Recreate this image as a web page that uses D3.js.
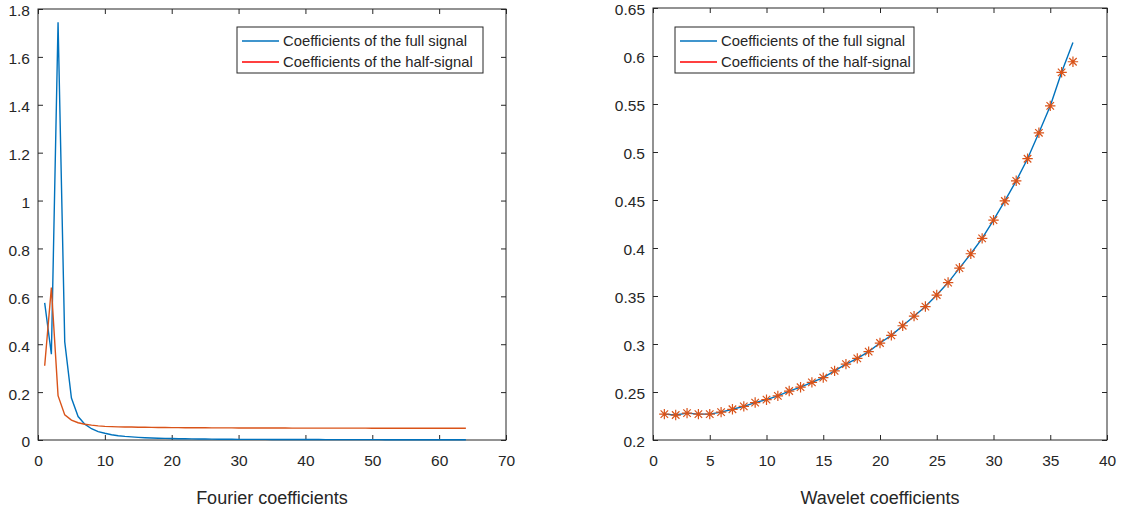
<!DOCTYPE html>
<meta charset="utf-8">
<style>
body { margin: 0; background: #fff; }
text { font-family: "Liberation Sans", Arial, sans-serif; fill: #262626; }
.tick text { font-size: 15.5px; }
.domain { display: none; }
.tick line { stroke: #262626; }
</style>
<body>
<script src="https://d3js.org/d3.v7.min.js"></script>
<script>

const width = 1147,
    height = 514

// Fourier coefficients, indices 1..64
var fourierFull = [0.573, 0.358, 1.745, 0.41, 0.175, 0.098, 0.066, 0.047, 0.035, 0.028,
    0.022, 0.018, 0.015, 0.013, 0.011, 0.0095, 0.0085, 0.0075, 0.0067, 0.006,
    0.0055, 0.005, 0.0046, 0.0042, 0.0039, 0.0036, 0.0034, 0.0032, 0.003, 0.0028,
    0.0027, 0.0026, 0.0025, 0.0024, 0.0023, 0.0022, 0.0021, 0.002, 0.0019, 0.0019,
    0.0018, 0.0018, 0.0017, 0.0017, 0.0016, 0.0016, 0.0015, 0.0015, 0.0014, 0.0014,
    0.0014, 0.0013, 0.0013, 0.0013, 0.0012, 0.0012, 0.0012, 0.0011, 0.0011, 0.0011,
    0.001, 0.001, 0.001, 0.001]
var fourierHalf = [0.31, 0.637, 0.185, 0.105, 0.083, 0.072, 0.066, 0.062, 0.059, 0.057,
    0.056, 0.055, 0.0545, 0.054, 0.0535, 0.053, 0.0527, 0.0524, 0.0521, 0.0518,
    0.0516, 0.0514, 0.0512, 0.051, 0.0509, 0.0508, 0.0507, 0.0506, 0.0505, 0.0504,
    0.0503, 0.0502, 0.0501, 0.05, 0.05, 0.0499, 0.0499, 0.0498, 0.0498, 0.0497,
    0.0497, 0.0496, 0.0496, 0.0495, 0.0495, 0.0495, 0.0494, 0.0494, 0.0494, 0.0493,
    0.0493, 0.0493, 0.0492, 0.0492, 0.0492, 0.0492, 0.0491, 0.0491, 0.0491, 0.0491,
    0.049, 0.049, 0.049, 0.049]

// Wavelet coefficients, indices 1..37
var waveletFull = [0.227, 0.226, 0.228, 0.227, 0.227, 0.229, 0.232, 0.235, 0.239, 0.242,
    0.246, 0.251, 0.255, 0.26, 0.265, 0.272, 0.279, 0.285, 0.292, 0.301,
    0.309, 0.319, 0.329, 0.339, 0.351, 0.364, 0.379, 0.394, 0.41, 0.429,
    0.449, 0.47, 0.493, 0.52, 0.548, 0.583, 0.614]
var waveletHalf = [0.227, 0.226, 0.228, 0.227, 0.227, 0.229, 0.232, 0.235, 0.239, 0.242,
    0.246, 0.251, 0.255, 0.26, 0.265, 0.272, 0.279, 0.285, 0.292, 0.301,
    0.309, 0.319, 0.329, 0.339, 0.351, 0.364, 0.379, 0.394, 0.41, 0.429,
    0.449, 0.47, 0.493, 0.52, 0.548, 0.583, 0.594]

var fourierXTicks = [0, 10, 20, 30, 40, 50, 60, 70]
var fourierYTicks = [0, 0.2, 0.4, 0.6, 0.8, 1, 1.2, 1.4, 1.6, 1.8]
var waveletXTicks = [0, 5, 10, 15, 20, 25, 30, 35, 40]
var waveletYTicks = [0.2, 0.25, 0.3, 0.35, 0.4, 0.45, 0.5, 0.55, 0.6, 0.65]

var legendLabels = ['Coefficients of the full signal', 'Coefficients of the half-signal']

var blue = '#0072BD', orange = '#D95319'

var svg = d3.select('body').append('svg')
    .attr('width', width)
    .attr('height', height)

function panel(opt) {
    var x = d3.scaleLinear().domain(opt.xDomain).range([opt.left, opt.right])
    var y = d3.scaleLinear().domain(opt.yDomain).range([opt.bottom, opt.top])
    var g = svg.append('g')

    var fmt = function (d) { return String(+d.toFixed(2)) }

    // bottom and left axes with inward ticks
    g.append('g').attr('transform', 'translate(0,' + opt.bottom + ')')
        .call(d3.axisBottom(x).tickValues(opt.xTicks).tickSize(-5).tickPadding(15).tickFormat(fmt))
    g.append('g').attr('transform', 'translate(' + opt.left + ',0)')
        .call(d3.axisLeft(y).tickValues(opt.yTicks).tickSize(-5).tickPadding(8).tickFormat(fmt))
        .selectAll('text').attr('dy', '0.45em')
    // top and right ticks
    g.append('g').attr('transform', 'translate(0,' + opt.top + ')')
        .call(d3.axisTop(x).tickValues(opt.xTicks).tickSize(-5).tickFormat(''))
    g.append('g').attr('transform', 'translate(' + opt.right + ',0)')
        .call(d3.axisRight(y).tickValues(opt.yTicks).tickSize(-5).tickFormat(''))

    g.append('rect')
        .attr('x', opt.left).attr('y', opt.top)
        .attr('width', opt.right - opt.left).attr('height', opt.bottom - opt.top)
        .attr('fill', 'none').attr('stroke', '#262626').attr('stroke-width', 1)

    var line = d3.line()
        .x(function (d, i) { return x(i + 1) })
        .y(function (d) { return y(d) })

    g.append('path').datum(opt.full)
        .attr('d', line).attr('fill', 'none')
        .attr('stroke', blue).attr('stroke-width', 1.4)

    if (opt.halfMarkers) {
        var s = 5.2, k = s * 0.72
        g.selectAll('.star').data(opt.half).enter().append('path')
            .attr('class', 'star')
            .attr('transform', function (d, i) { return 'translate(' + x(i + 1) + ',' + y(d) + ')' })
            .attr('d', 'M' + (-s) + ',0H' + s + 'M0,' + (-s) + 'V' + s +
                'M' + (-k) + ',' + (-k) + 'L' + k + ',' + k +
                'M' + (-k) + ',' + k + 'L' + k + ',' + (-k))
            .attr('fill', 'none').attr('stroke', orange).attr('stroke-width', 1.2)
    } else {
        g.append('path').datum(opt.half)
            .attr('d', line).attr('fill', 'none')
            .attr('stroke', orange).attr('stroke-width', 1.4)
    }

    g.append('text')
        .attr('x', (opt.left + opt.right) / 2).attr('y', 504)
        .attr('text-anchor', 'middle').style('font-size', '18px')
        .text(opt.xlabel)

    // legend
    var lg = svg.append('g').attr('transform', 'translate(' + opt.legendX + ',' + opt.legendY + ')')
    lg.append('rect').attr('width', opt.legendW).attr('height', 46)
        .attr('fill', '#fff').attr('stroke', '#262626').attr('stroke-width', 1)
    var colors = [blue, '#FF0000']
    legendLabels.forEach(function (t, i) {
        var yy = 14 + i * 21
        lg.append('line').attr('x1', 5).attr('x2', 42).attr('y1', yy).attr('y2', yy)
            .attr('stroke', colors[i]).attr('stroke-width', 1.3)
        lg.append('text').attr('x', 46).attr('y', yy + 5)
            .style('font-size', '14.8px').text(t)
    })
}

panel({
    left: 38, right: 506, top: 9, bottom: 440,
    xDomain: [0, 70], yDomain: [0, 1.8],
    xTicks: fourierXTicks, yTicks: fourierYTicks,
    full: fourierFull, half: fourierHalf, halfMarkers: false,
    xlabel: 'Fourier coefficients',
    legendX: 237, legendY: 27, legendW: 246
})

panel({
    left: 653, right: 1107, top: 8, bottom: 440,
    xDomain: [0, 40], yDomain: [0.2, 0.65],
    xTicks: waveletXTicks, yTicks: waveletYTicks,
    full: waveletFull, half: waveletHalf, halfMarkers: true,
    xlabel: 'Wavelet coefficients',
    legendX: 675, legendY: 27, legendW: 239
})

</script>
</body>
